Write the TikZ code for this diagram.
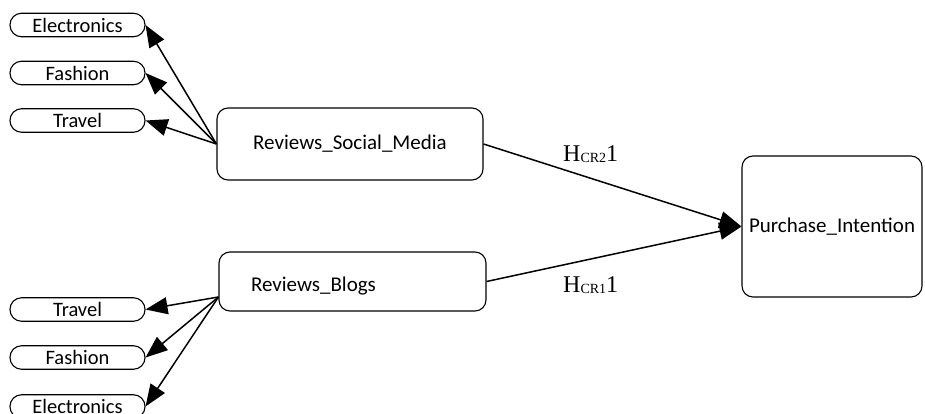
\documentclass[tikz,border=0pt]{standalone}
\usepackage{fontspec}
\setmainfont{Carlito}
\newfontfamily\labfont{Liberation Serif}
\usetikzlibrary{arrows.meta}
\tikzset{
  pill/.style={draw, line width=1.1pt, rounded corners=11.5pt, minimum width=135pt, minimum height=23.5pt, inner sep=0pt, font=\fontsize{20.5}{22}\selectfont},
  bigbox/.style={draw, line width=1.1pt, rounded corners=11pt, inner sep=0pt, font=\fontsize{21}{22}\selectfont},
  conn/.style={line width=1.5pt, -{Triangle[length=22pt,width=17pt]}},
  hlab/.style={anchor=base west, inner sep=0pt, font=\labfont\fontsize{24}{24}\selectfont}
}
\begin{document}
\begin{tikzpicture}[x=1pt,y=-1pt]
\useasboundingbox (0,0) rectangle (925,414);
% left top pills
\node[pill] (e1) at (77.5,25) {Electronics};
\node[pill] (f1) at (77.5,73) {Fashion};
\node[pill] (t1) at (77.5,120.5) {Travel};
% left bottom pills
\node[pill] (t2) at (77.5,309.5) {Travel};
\node[pill] (f2) at (77.5,357.5) {Fashion};
\node[pill] (e2) at (77.5,406.5) {Electronics};
% main boxes
\node[bigbox, minimum width=266pt, minimum height=72pt] (sm) at (350,144) {Reviews\_Social\_Media};
\node[bigbox, minimum width=267pt, minimum height=59pt, text width=203pt, align=left] (bl) at (352.5,281.5) {\raisebox{-5pt}[\height][\depth]{Reviews\_Blogs}};
\node[bigbox, minimum width=180pt, minimum height=141pt] (pi) at (832,226.5) {Purchase\_Intention};
% connectors
\draw[conn] (sm.west) -- (e1.east);
\draw[conn] (sm.west) -- (f1.east);
\draw[conn] (sm.west) -- (t1.east);
\coordinate (bsrc) at ([yshift=-15.5pt]bl.west);
\draw[conn] (bsrc) -- (t2.east);
\draw[conn] (bsrc) -- (f2.east);
\draw[conn] (bsrc) -- (e2.east);
\draw[conn] (sm.east) -- (pi.west);
\draw[conn] (bl.east) -- (pi.west);
% labels
\node[hlab] (h2) at (563,162) {H\raisebox{-1pt}{\fontsize{14}{14}\selectfont CR2}1};
\node[hlab] (h1) at (563,292) {H\raisebox{-1pt}{\fontsize{14}{14}\selectfont CR1}1};
\end{tikzpicture}
\end{document}
